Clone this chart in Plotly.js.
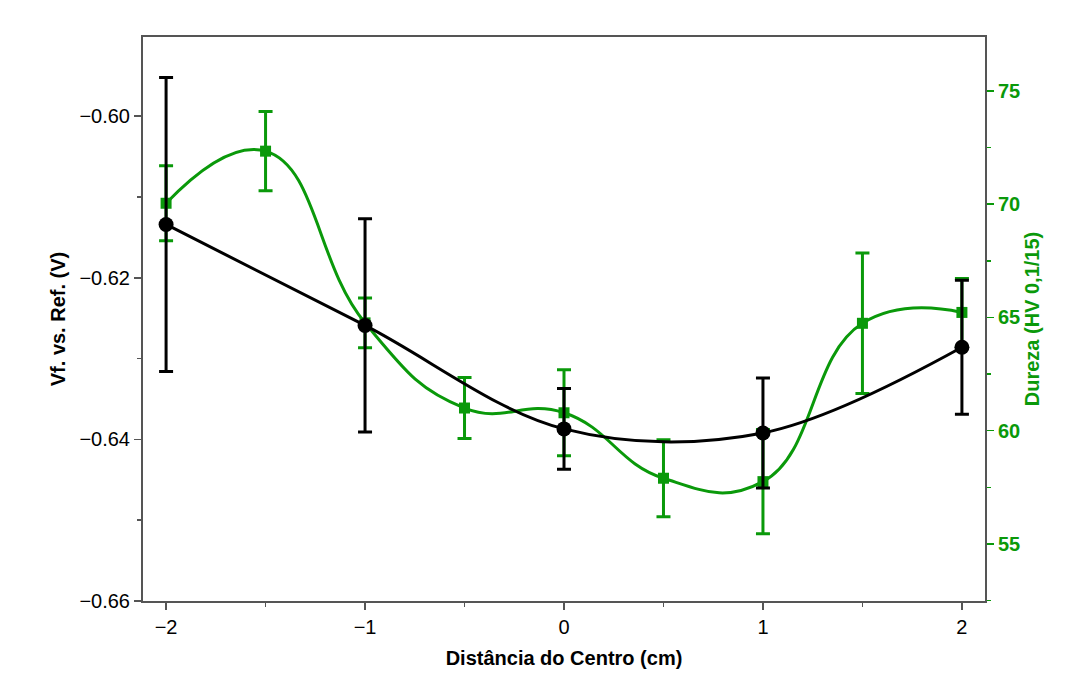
<!DOCTYPE html>
<html>
<head>
<meta charset="utf-8">
<script src="https://cdn.plot.ly/plotly-3.0.1.min.js"></script>
<style>
  html, body { margin: 0; padding: 0; background: #fff; }
  #chart { width: 1090px; height: 674px; }
</style>
</head>
<body>
<div id="chart"></div>
<script>
// Potencial (Vf vs. Ref.) ao longo do perfil
const posVf = [-2, -1, 0, 1, 2];
const vf = [-0.6134, -0.6259, -0.6387, -0.6392, -0.6286];
const vfErr = [0.0182, 0.0132, 0.0050, 0.0068, 0.0083];

// Dureza HV 0,1/15 ao longo do perfil
const posHv = [-2, -1.5, -1, -0.5, 0, 0.5, 1, 1.5, 2];
const hv = [70.04, 72.34, 64.76, 61.0, 60.79, 57.9, 57.75, 64.74, 65.22];
const hvErr = [1.66, 1.75, 1.1, 1.35, 1.9, 1.7, 2.3, 3.1, 1.5];

const GREEN = '#0a990a';
const AXIS = '#555555';
const FONT = 'Liberation Sans, Arial, sans-serif';

const traces = [
  {
    x: posHv, y: hv, yaxis: 'y', type: 'scatter', mode: 'lines+markers',
    name: 'Dureza',
    line: { color: GREEN, width: 3, shape: 'spline', smoothing: 1.3 },
    marker: { symbol: 'square', size: 11, color: GREEN },
    error_y: { type: 'data', array: hvErr, visible: true, color: GREEN, thickness: 3, width: 7 }
  },
  {
    x: posVf, y: vf, yaxis: 'y2', type: 'scatter', mode: 'lines+markers',
    name: 'Vf',
    line: { color: '#000', width: 3, shape: 'spline', smoothing: 1.0 },
    marker: { symbol: 'circle', size: 15, color: '#000' },
    error_y: { type: 'data', array: vfErr, visible: true, color: '#000', thickness: 3, width: 7 }
  }
];

const layout = {
  width: 1090, height: 674,
  margin: { l: 143, r: 105, t: 37, b: 73 },
  paper_bgcolor: '#fff', plot_bgcolor: '#fff',
  showlegend: false,
  font: { family: FONT, size: 20, color: '#000' },
  xaxis: {
    range: [-2.116, 2.116],
    tickvals: [-2, -1, 0, 1, 2],
    ticks: 'outside', ticklen: 7, tickwidth: 1.5, tickcolor: AXIS,
    minor: { dtick: 0.5, tick0: 0, ticks: 'outside', ticklen: 4, tickwidth: 1.5, tickcolor: AXIS, showgrid: false },
    showline: true, linecolor: AXIS, linewidth: 2, mirror: true,
    showgrid: false, zeroline: false,
    tickfont: { size: 20, color: '#000' },
    title: { text: '<b>Distância do Centro (cm)</b>', font: { size: 20, color: '#000' }, standoff: 14 }
  },
  yaxis: {
    side: 'right',
    range: [52.48, 77.38],
    tickvals: [55, 60, 65, 70, 75],
    ticks: 'outside', ticklen: 7, tickwidth: 1.5, tickcolor: GREEN,
    minor: { dtick: 2.5, tick0: 0, ticks: 'outside', ticklen: 4, tickwidth: 1.5, tickcolor: GREEN, showgrid: false },
    showline: true, linecolor: AXIS, linewidth: 2,
    showgrid: false, zeroline: false,
    tickfont: { size: 20, color: GREEN, weight: 'bold' },
    title: { text: '<b>Dureza (HV 0,1/15)</b>', font: { size: 20, color: GREEN }, standoff: 6 }
  },
  yaxis2: {
    overlaying: 'y', side: 'left',
    range: [-0.66, -0.5902],
    tickvals: [-0.66, -0.64, -0.62, -0.60],
    tickformat: '.2f',
    ticks: 'outside', ticklen: 7, tickwidth: 1.5, tickcolor: AXIS,
    minor: { dtick: 0.01, tick0: 0, ticks: 'outside', ticklen: 4, tickwidth: 1.5, tickcolor: AXIS, showgrid: false },
    showline: true, linecolor: AXIS, linewidth: 2,
    showgrid: false, zeroline: false,
    tickfont: { size: 20, color: '#000' },
    title: { text: '<b>Vf. vs. Ref. (V)</b>', font: { size: 20, color: '#000' }, standoff: 8 }
  }
};

Plotly.newPlot('chart', traces, layout, { displayModeBar: false, staticPlot: true });
</script>
</body>
</html>
